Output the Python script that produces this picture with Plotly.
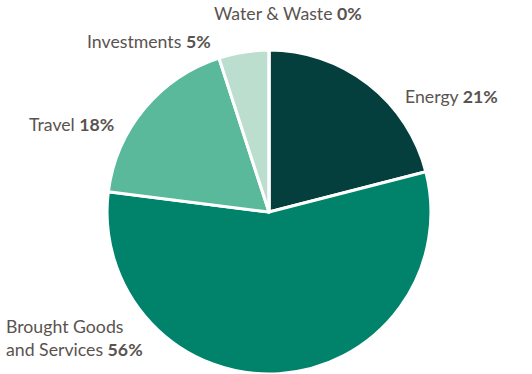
import plotly.graph_objects as go

# Emission share by category (percent)
categories = ["Energy", "Brought Goods and Services", "Travel", "Investments", "Water & Waste"]
label_lines = ["Energy", "Brought Goods<br>and Services", "Travel", "Investments", "Water & Waste"]
shares = [21, 56, 18, 5, 0]
colors = ["#043f3e", "#00836a", "#5ab99b", "#bcdecf", "#e6f2ec"]

# Label anchor points (paper coordinates) and alignment for each category
label_x = [0.757, 0.007, 0.050, 0.159, 0.541]
label_y = [0.741, 0.095, 0.666, 0.890, 0.965]
label_align = ["left", "left", "left", "left", "center"]

fig = go.Figure(
    go.Pie(
        labels=categories,
        values=shares,
        sort=False,
        direction="clockwise",
        rotation=0,
        marker=dict(colors=colors, line=dict(color="white", width=3)),
        textinfo="none",
        hoverinfo="label+percent",
        domain=dict(x=[0.2011, 0.8102], y=[0.0, 0.866]),
        showlegend=False,
    )
)

for name, val, x, y, al in zip(label_lines, shares, label_x, label_y, label_align):
    fig.add_annotation(
        x=x, y=y, xref="paper", yref="paper",
        xanchor="center" if al == "center" else "left",
        yanchor="middle",
        align=al,
        showarrow=False,
        text=f"{name} <b>{val}%</b>",
        font=dict(family="Lato, sans-serif", size=17.7, color="#5a5350"),
    )

fig.update_layout(
    width=532,
    height=374,
    margin=dict(l=0, r=0, t=0, b=0),
    paper_bgcolor="white",
    plot_bgcolor="white",
)

fig.write_html("out.html")
